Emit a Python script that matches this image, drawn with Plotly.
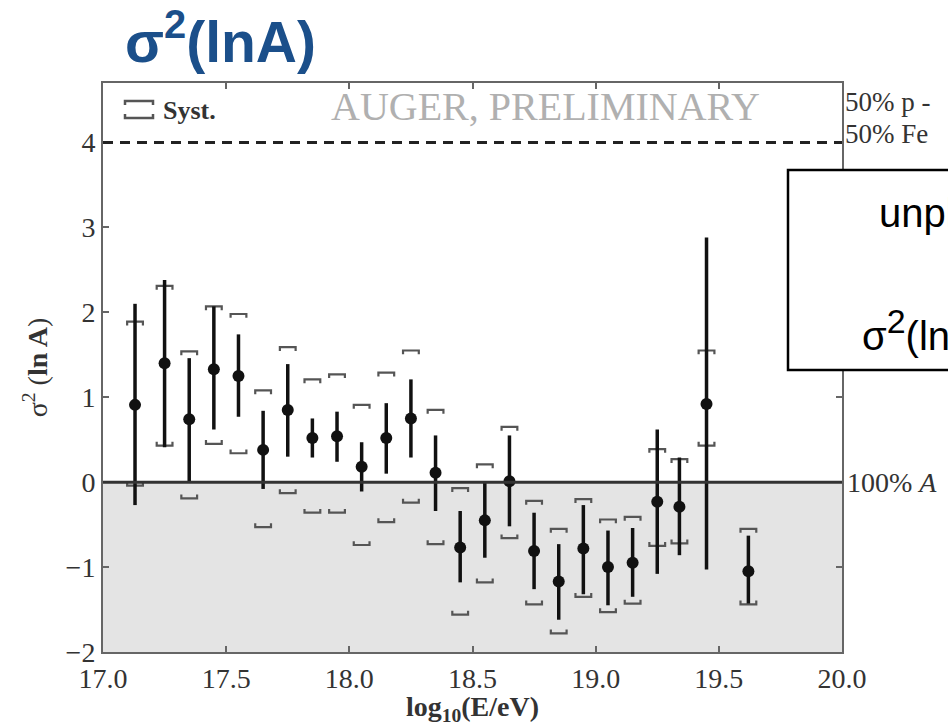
import plotly.graph_objects as go

# ---- data ----
log_e = [17.13, 17.25, 17.35, 17.45, 17.55, 17.65, 17.75, 17.85, 17.95, 18.05,
         18.15, 18.25, 18.35, 18.45, 18.55, 18.65, 18.75, 18.85, 18.95, 19.05,
         19.15, 19.25, 19.34, 19.45, 19.62]
sigma2 = [0.91, 1.40, 0.74, 1.33, 1.25, 0.38, 0.85, 0.52, 0.54, 0.18,
          0.52, 0.75, 0.11, -0.77, -0.45, 0.01, -0.81, -1.17, -0.78, -1.00,
          -0.95, -0.23, -0.29, 0.92, -1.05]
stat_hi = [2.10, 2.38, 1.46, 2.07, 1.74, 0.84, 1.39, 0.75, 0.83, 0.47,
           0.93, 1.21, 0.55, -0.34, -0.01, 0.55, -0.36, -0.73, -0.27, -0.57,
           -0.54, 0.62, 0.29, 2.88, -0.63]
stat_lo = [-0.27, 0.41, 0.00, 0.62, 0.77, -0.08, 0.30, 0.29, 0.24, -0.11,
           0.10, 0.29, -0.34, -1.18, -0.89, -0.52, -1.26, -1.62, -1.32, -1.45,
           -1.35, -1.08, -0.86, -1.03, -1.43]
syst_hi = [1.89, 2.31, 1.54, 2.07, 1.98, 1.08, 1.59, 1.21, 1.27, 0.91,
           1.29, 1.55, 0.85, -0.07, 0.21, 0.65, -0.22, -0.55, -0.20, -0.44,
           -0.41, 0.39, 0.27, 1.55, -0.55]
syst_lo = [-0.04, 0.43, -0.19, 0.45, 0.34, -0.53, -0.13, -0.36, -0.36, -0.74,
           -0.47, -0.24, -0.73, -1.56, -1.18, -0.66, -1.44, -1.78, -1.35, -1.53,
           -1.43, -0.75, -0.72, 0.43, -1.44]
ref_levels = [0, 4]          # 100% A  and  50% p - 50% Fe
x_ticks = [17.0, 17.5, 18.0, 18.5, 19.0, 19.5, 20.0]
y_ticks = [-2, -1, 0, 1, 2, 3, 4]

X_RANGE = [17.0, 20.0]
Y_RANGE = [-2.0, 4.7]

W, H = 948, 726
ML, MR, MT, MB = 103, 106, 83, 74
PW, PH = W - ML - MR, H - MT - MB


def px(x):
    return (x - ML) / PW


def py(y):
    return (H - MB - y) / PH


SERIF = "Liberation Serif"
SANS = "Liberation Sans"

fig = go.Figure()

# systematic brackets
bw, bh = 0.032, 0.045
bx, by = [], []
for xi, yh, yl in zip(log_e, syst_hi, syst_lo):
    bx += [xi - bw, xi - bw, xi + bw, xi + bw, None]
    by += [yh - bh, yh, yh, yh - bh, None]
    bx += [xi - bw, xi - bw, xi + bw, xi + bw, None]
    by += [yl + bh, yl, yl, yl + bh, None]
fig.add_trace(go.Scatter(x=bx, y=by, mode="lines",
                         line=dict(color="#555555", width=2.2),
                         hoverinfo="skip", showlegend=False))

# data points with statistical errors
fig.add_trace(go.Scatter(
    x=log_e, y=sigma2, mode="markers",
    marker=dict(color="#111111", size=12),
    error_y=dict(type="data", symmetric=False,
                 array=[h - v for h, v in zip(stat_hi, sigma2)],
                 arrayminus=[v - l for v, l in zip(sigma2, stat_lo)],
                 width=0, thickness=3.5, color="#111111"),
    showlegend=False))

shapes = []
# unphysical shaded region
shapes.append(dict(type="rect", xref="x", yref="y", x0=X_RANGE[0], x1=X_RANGE[1],
                   y0=Y_RANGE[0], y1=ref_levels[0], fillcolor="#e4e4e4",
                   line=dict(width=0), layer="below"))
shapes.append(dict(type="line", xref="x", yref="y", x0=X_RANGE[0], x1=X_RANGE[1],
                   y0=ref_levels[0], y1=ref_levels[0],
                   line=dict(color="#333333", width=3)))
shapes.append(dict(type="line", xref="x", yref="y", x0=X_RANGE[0], x1=X_RANGE[1],
                   y0=ref_levels[1], y1=ref_levels[1],
                   line=dict(color="#222222", width=3, dash="10px,7px")))

# legend bracket symbol
lx0, lx1 = 125, 153
shapes.append(dict(type="path", xref="paper", yref="paper",
                   path=f"M {px(lx0)},{py(105)} L {px(lx0)},{py(101)} L {px(lx1)},{py(101)} L {px(lx1)},{py(105)}",
                   line=dict(color="#555555", width=2.5)))
shapes.append(dict(type="path", xref="paper", yref="paper",
                   path=f"M {px(lx0)},{py(114)} L {px(lx0)},{py(118)} L {px(lx1)},{py(118)} L {px(lx1)},{py(114)}",
                   line=dict(color="#555555", width=2.5)))

# overlay box on the right
shapes.append(dict(type="rect", xref="paper", yref="paper",
                   x0=px(788), x1=px(1000), y0=py(370), y1=py(170),
                   fillcolor="white", line=dict(color="black", width=2.5),
                   layer="above"))

annotations = [
    dict(text="σ<sup>2</sup>(lnA)", xref="paper", yref="paper",
         x=px(123), y=py(38), xanchor="left", yanchor="middle", showarrow=False,
         font=dict(family=SANS, size=57, color="#1b4f8a", weight="bold")),
    dict(text="AUGER, PRELIMINARY", xref="paper", yref="paper",
         x=px(545), y=py(106), xanchor="center", yanchor="middle", showarrow=False,
         font=dict(family=SERIF, size=40, color="#b0b0b0")),
    dict(text="Syst.", xref="paper", yref="paper",
         x=px(161), y=py(110), xanchor="left", yanchor="middle", showarrow=False,
         font=dict(family=SERIF, size=26, color="#333333", weight="bold")),
    dict(text="50% p -", xref="paper", yref="paper",
         x=px(843), y=py(102), xanchor="left", yanchor="middle", showarrow=False,
         font=dict(family=SERIF, size=27, color="#333333")),
    dict(text="50% Fe", xref="paper", yref="paper",
         x=px(843), y=py(134), xanchor="left", yanchor="middle", showarrow=False,
         font=dict(family=SERIF, size=27, color="#333333")),
    dict(text="100% <i>A</i>", xref="paper", yref="y",
         x=px(845), y=ref_levels[0], xanchor="left", yanchor="middle", showarrow=False,
         font=dict(family=SERIF, size=28, color="#333333")),
    dict(text="unphysical", xref="paper", yref="paper",
         x=px(877), y=py(213), xanchor="left", yanchor="middle", showarrow=False,
         font=dict(family=SANS, size=40, color="black")),
    dict(text="σ<sup><span style='font-size:34px'>2</span></sup>(lnA) < 0",
         xref="paper", yref="paper",
         x=px(860), y=py(330), xanchor="left", yanchor="middle", showarrow=False,
         font=dict(family=SANS, size=40, color="black")),
]

axis_common = dict(showline=True, linecolor="#666666", linewidth=2, mirror="allticks",
                   ticks="inside", ticklen=6, tickwidth=2, tickcolor="#666666",
                   showgrid=False, zeroline=False,
                   tickfont=dict(family=SERIF, size=28, color="#333333"))

fig.update_layout(
    width=W, height=H,
    margin=dict(l=ML, r=MR, t=MT, b=MB),
    paper_bgcolor="white", plot_bgcolor="white",
    shapes=shapes, annotations=annotations,
    xaxis=dict(range=X_RANGE, tickvals=x_ticks,
               ticktext=[f"{v:.1f}" for v in x_ticks],
               title=dict(text="<b>log<sub>10</sub>(E/eV)</b>", standoff=2,
                          font=dict(family=SERIF, size=28, color="#333333")),
               **axis_common),
    yaxis=dict(range=Y_RANGE, tickvals=y_ticks,
               title=dict(text="σ<sup>2</sup> (<b>ln A</b>)", standoff=10,
                          font=dict(family=SERIF, size=28, color="#333333")),
               **axis_common),
)

fig.write_html("out.html")
